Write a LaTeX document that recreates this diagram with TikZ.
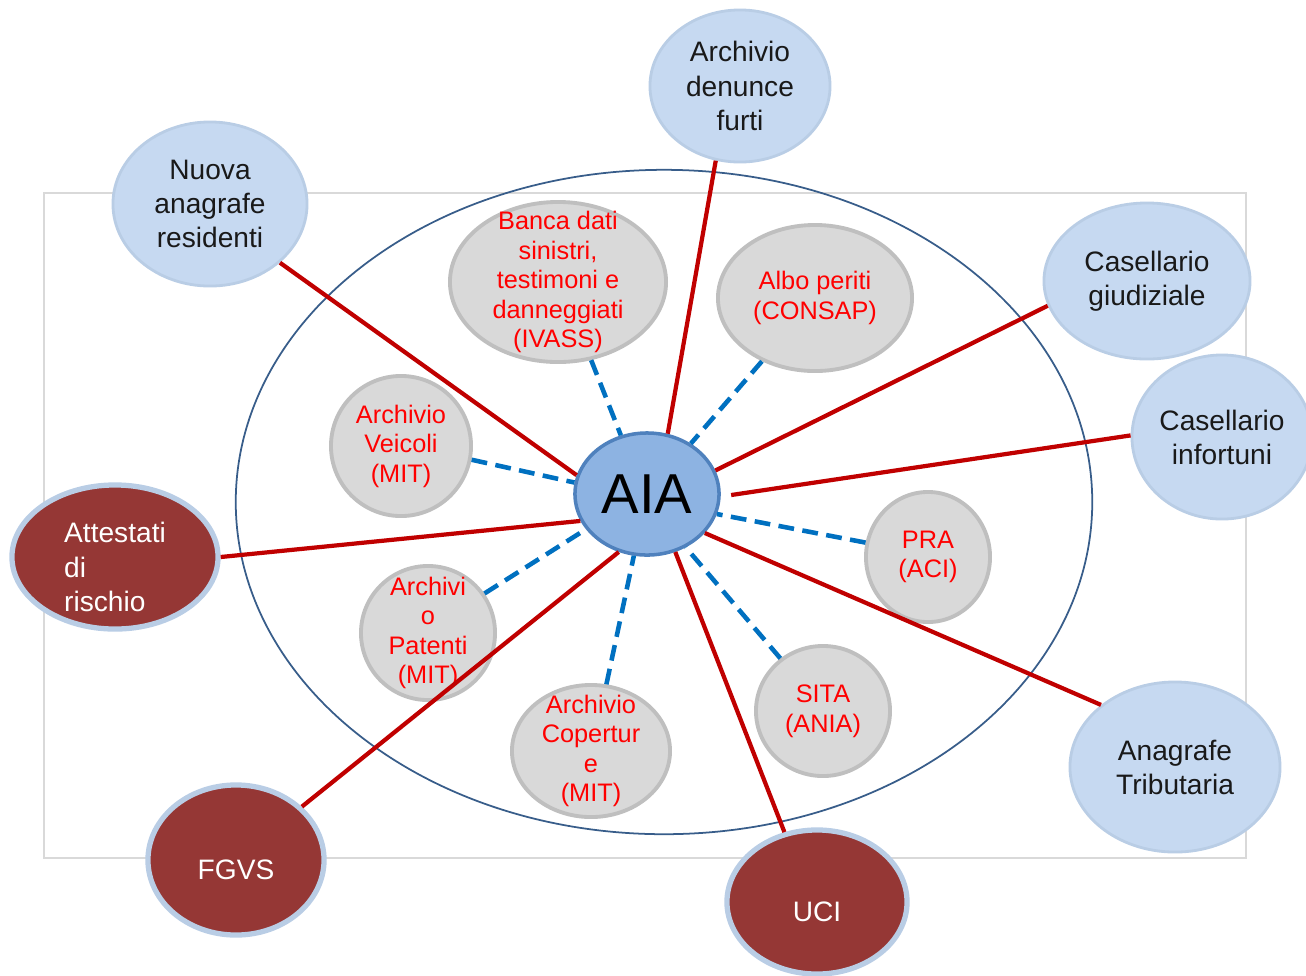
\documentclass[tikz,border=0pt]{standalone}
\usepackage{fontspec}
\setmainfont{Liberation Sans}
\usetikzlibrary{shapes}
\definecolor{dbfill}{HTML}{D9D9D9}
\definecolor{dbline}{HTML}{BFBFBF}
\definecolor{extfill}{HTML}{C6D9F1}
\definecolor{extline}{HTML}{B9CDE5}
\definecolor{entefill}{HTML}{953735}
\definecolor{hubfill}{HTML}{8DB3E2}
\definecolor{hubline}{HTML}{4F81BD}
\definecolor{linkred}{HTML}{C00000}
\definecolor{linkblue}{HTML}{0070C0}
\definecolor{ring}{HTML}{385D8A}
\tikzset{
    db/.style={
        ellipse, draw=dbline, fill=dbfill,
        line width=1.1pt,
        inner sep=0pt
    },
    dbtext/.style={
        align=center, text=red, inner sep=0pt,
        font=\fontsize{7.2}{8.4}\selectfont
    },
    ext/.style={
        ellipse, draw=extline, fill=extfill,
        line width=0.8pt,
        inner sep=0pt
    },
    exttext/.style={
        align=center, text=black!90, inner sep=0pt,
        font=\fontsize{8}{9.7}\selectfont
    },
    ente/.style={
        ellipse, draw=extline, fill=entefill,
        line width=1.5pt,
        inner sep=0pt
    },
    entetext/.style={
        align=left, text=white, inner sep=0pt, yshift=-0.1cm,
        font=\fontsize{8}{9.7}\selectfont
    },
    hub/.style={
        ellipse, draw=hubline, fill=hubfill,
        line width=1pt, inner sep=0pt,
        font=\fontsize{16}{18}\selectfont
    },
    link/.style={line width=1.2pt, draw=linkred},
    dlink/.style={line width=1.3pt, draw=linkblue, dash pattern=on 4.5pt off 2.4pt},
}
\begin{document}
\begin{tikzpicture}[x=0.01cm, y=-0.01cm]
        \useasboundingbox (0,0) rectangle (1306,975);
        \draw[dbfill, line width=0.6pt] (44,193) rectangle (1246,858);
        \draw[ring, line width=0.5pt] (664,502) ellipse [x radius=4.28cm, y radius=3.32cm];

        % banche dati interne
        \node[db, minimum width=2.16cm, minimum height=1.6cm,
            label={[dbtext]center:{Banca dati\\sinistri,\\testimoni e\\danneggiati\\(IVASS)}}] (banca) at (558,282) {};
        \node[db, minimum width=1.94cm, minimum height=1.46cm,
            label={[dbtext]center:{Albo periti\\(CONSAP)}}] (albo) at (815,298) {};
        \node[db, minimum width=1.4cm, minimum height=1.4cm,
            label={[dbtext]center:{Archivio\\Veicoli\\(MIT)}}] (veic) at (401,446) {};
        \node[db, minimum width=1.24cm, minimum height=1.3cm,
            label={[dbtext]center:{PRA\\(ACI)}}] (pra) at (928,557) {};
        \node[db, minimum width=1.34cm, minimum height=1.34cm,
            label={[dbtext]center:{Archivi\\o\\Patenti\\(MIT)}}] (pat) at (428,633) {};
        \node[db, minimum width=1.58cm, minimum height=1.32cm,
            label={[dbtext]center:{Archivio\\Copertur\\e\\(MIT)}}] (cop) at (591,751) {};
        \node[db, minimum width=1.34cm, minimum height=1.3cm,
            label={[dbtext]center:{SITA\\(ANIA)}}] (sita) at (823,711) {};

        \node[hub, minimum width=1.44cm, minimum height=1.22cm] (aia) at (647,494) {AIA};

        % archivi esterni
        \node[ext, minimum width=1.8cm, minimum height=1.52cm,
            label={[exttext]center:{Archivio\\denunce\\furti}}] (furti) at (740,86) {};
        \node[ext, minimum width=1.94cm, minimum height=1.64cm,
            label={[exttext]center:{Nuova\\anagrafe\\residenti}}] (nuova) at (210,204) {};
        \node[ext, minimum width=2.06cm, minimum height=1.56cm,
            label={[exttext]center:{Casellario\\giudiziale}}] (giud) at (1147,281) {};
        \node[ext, minimum width=1.8cm, minimum height=1.64cm,
            label={[exttext]center:{Casellario\\infortuni}}] (inf) at (1222,437) {};
        \node[ext, minimum width=2.1cm, minimum height=1.7cm,
            label={[exttext]center:{Anagrafe\\Tributaria}}] (trib) at (1175,767) {};

        % enti
        \node[ente, minimum width=2.06cm, minimum height=1.44cm,
            label={[entetext]center:{Attestati\\di\\rischio}}] (att) at (115,557) {};
        \node[ente, minimum width=1.76cm, minimum height=1.5cm,
            label={[entetext]center:FGVS}] (fgvs) at (236,860) {};
        \node[ente, minimum width=1.8cm, minimum height=1.44cm,
            label={[entetext]center:UCI}] (uci) at (817,902) {};

        \foreach \i/\j in {banca.-67/aia.114, albo.230/aia.49, veic.-11/aia.171,
                        pra.167/aia.-16, pat.35/aia.210, cop.77/aia.-102, sita.129/aia.-54}
                            \draw[dlink] (\i)--(\j);

        \foreach \i/\j in {nuova.-40/aia.165, furti.-108/aia.71, giud.194/aia.19,
                        trib.140/aia.-34, uci.115/aia.-64,
                        fgvs.39/aia.-116, att.0/aia.202}
                            \draw[link] (\i)--(\j);
        \draw[link, shorten >=3pt] (inf.179)--(aia.-2);
\end{tikzpicture}
\end{document}
